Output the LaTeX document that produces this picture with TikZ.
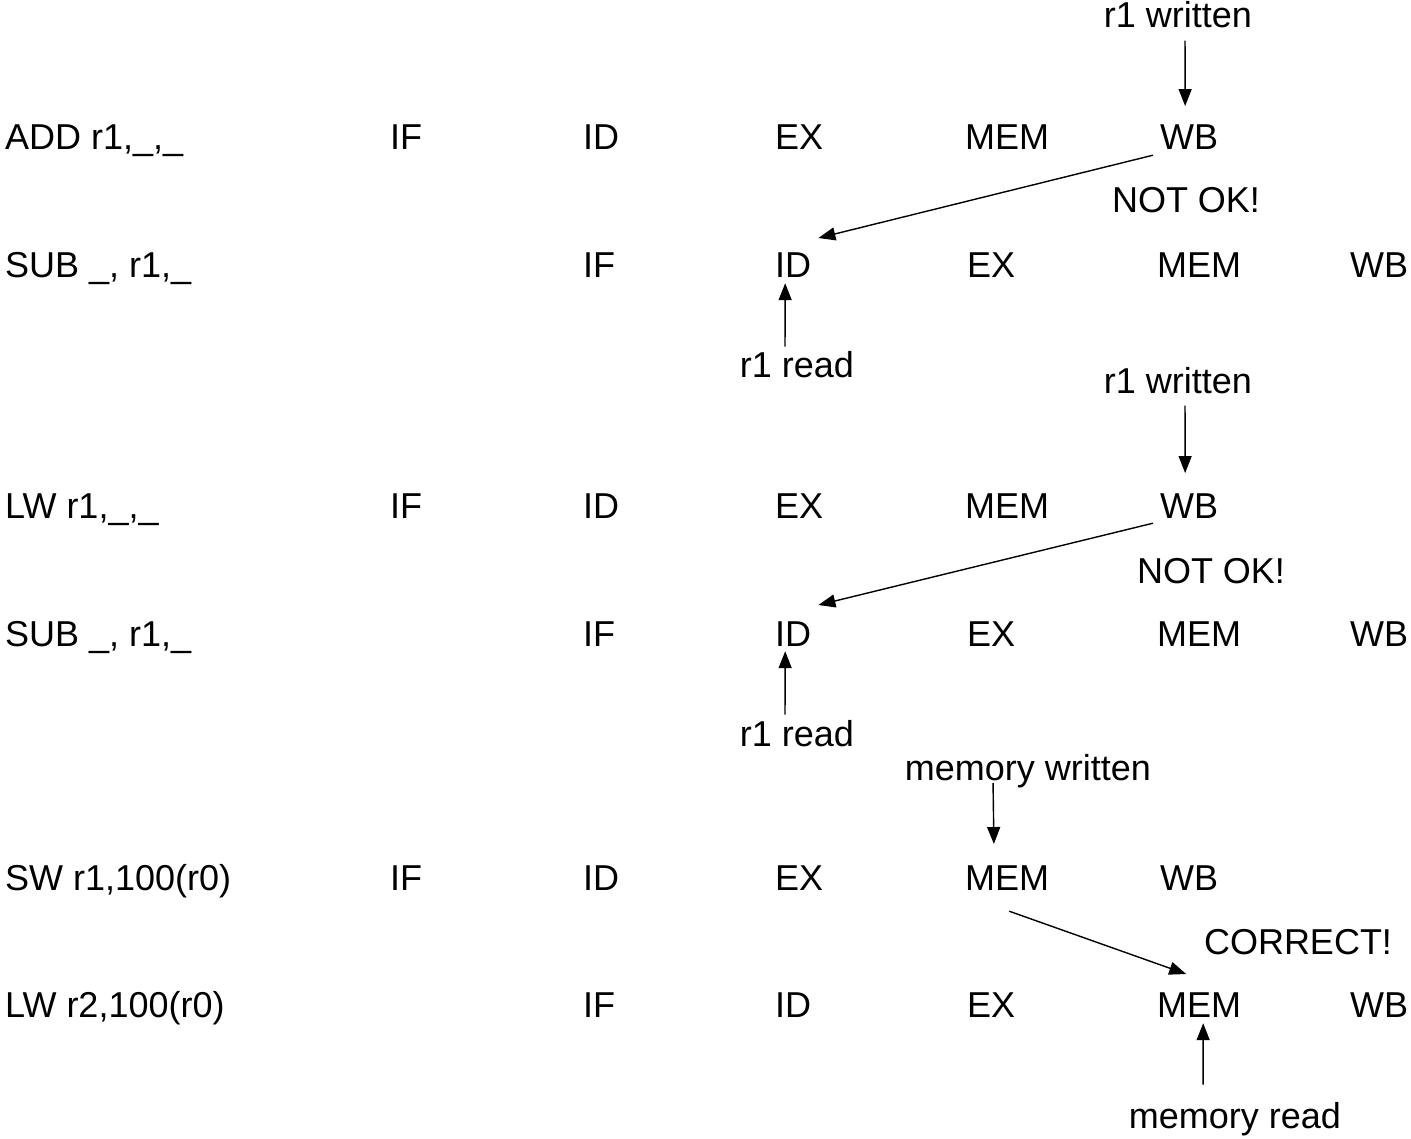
\documentclass[tikz,border=0pt]{standalone}
\usepackage{fontspec}
\setmainfont{Liberation Sans}
\usetikzlibrary{arrows.meta}
\tikzset{
  stage/.style={anchor=base west, inner sep=0pt},
  note/.style={anchor=base, inner sep=0pt},
  arr/.style={-{Triangle[length=17pt,width=13pt]}, line width=1.4pt},
}
\begin{document}
\begin{tikzpicture}[x=1pt, y=1pt, font=\fontsize{36}{43}\selectfont]
      \useasboundingbox (0,0) rectangle (1411,-1139);
      \node[stage] (add) at (5,-150) {ADD r1,\_,\_};
      \node[stage] (if1) at (390,-150) {IF};
      \node[stage] (id1) at (583,-150) {ID};
      \node[stage] (ex1) at (775,-150) {EX};
      \node[stage] (mem1) at (965,-150) {MEM};
      \node[stage] (wb1) at (1160,-150) {WB};
      \node[stage] (sub1) at (5,-278) {SUB \_, r1,\_};
      \node[stage] (if2) at (583,-278) {IF};
      \node[stage] (id2) at (775,-278) {ID};
      \node[stage] (ex2) at (967,-278) {EX};
      \node[stage] (mem2) at (1157,-278) {MEM};
      \node[stage] (wb2) at (1350,-278) {WB};
      \node[stage] (lw1) at (5,-518) {LW r1,\_,\_};
      \node[stage] (if3) at (390,-518) {IF};
      \node[stage] (id3) at (583,-518) {ID};
      \node[stage] (ex3) at (775,-518) {EX};
      \node[stage] (mem3) at (965,-518) {MEM};
      \node[stage] (wb3) at (1160,-518) {WB};
      \node[stage] (sub2) at (5,-646) {SUB \_, r1,\_};
      \node[stage] (if4) at (583,-646) {IF};
      \node[stage] (id4) at (775,-646) {ID};
      \node[stage] (ex4) at (967,-646) {EX};
      \node[stage] (mem4) at (1157,-646) {MEM};
      \node[stage] (wb4) at (1350,-646) {WB};
      \node[stage] (sw) at (5,-890) {SW r1,100(r0)};
      \node[stage] (if5) at (390,-890) {IF};
      \node[stage] (id5) at (583,-890) {ID};
      \node[stage] (ex5) at (775,-890) {EX};
      \node[stage] (mem5) at (965,-890) {MEM};
      \node[stage] (wb5) at (1160,-890) {WB};
      \node[stage] (lw2) at (5,-1017) {LW r2,100(r0)};
      \node[stage] (if6) at (583,-1017) {IF};
      \node[stage] (id6) at (775,-1017) {ID};
      \node[stage] (ex6) at (967,-1017) {EX};
      \node[stage] (mem6) at (1157,-1017) {MEM};
      \node[stage] (wb6) at (1350,-1017) {WB};
      \node[note] (wr1) at (1178,-28) {r1 written};
      \node[note] (bad1) at (1186,-213) {NOT OK!};
      \node[note] (rd1) at (797,-378) {r1 read};
      \node[note] (wr2) at (1178,-394) {r1 written};
      \node[note] (bad2) at (1211,-583) {NOT OK!};
      \node[note] (rd2) at (797,-746) {r1 read};
      \node[note] (mwr) at (1028,-780) {memory written};
      \node[note] (good) at (1298,-954) {CORRECT!};
      \node[note] (mrd) at (1235,-1128) {memory read};
      \begin{scope}[arr]
        \draw[shorten <=12pt, shorten >=19pt] ([xshift=7pt]wr1.south) to ([xshift=-4pt]wb1.north);
        \draw ([shift={(-7,-5)}]wb1.south west) to ([shift={(7,15)}]id2.north east);
        \draw[shorten <=5pt, shorten >=5pt] ([xshift=-12pt]rd1.north) to ([xshift=-8pt]id2.south);
        \draw[shorten <=11pt, shorten >=20pt] ([xshift=7pt]wr2.south) to ([xshift=-4pt]wb3.north);
        \draw ([shift={(-7,-5)}]wb3.south west) to ([shift={(7,16)}]id4.north east);
        \draw[shorten <=5pt, shorten >=5pt] ([xshift=-12pt]rd2.north) to ([xshift=-8pt]id4.south);
        \draw[shorten <=3pt, shorten >=21pt] ([xshift=-35pt]mwr.base) to ([xshift=-13pt]mem5.north);
        \draw ([shift={(2,-21)}]mem5.south) to ([shift={(-13,18)}]mem6.north);
        \draw[shorten <=17pt, shorten >=6pt] ([xshift=-32pt]mrd.north) to ([xshift=4pt]mem6.south);
      \end{scope}
    \end{tikzpicture}
\end{document}
